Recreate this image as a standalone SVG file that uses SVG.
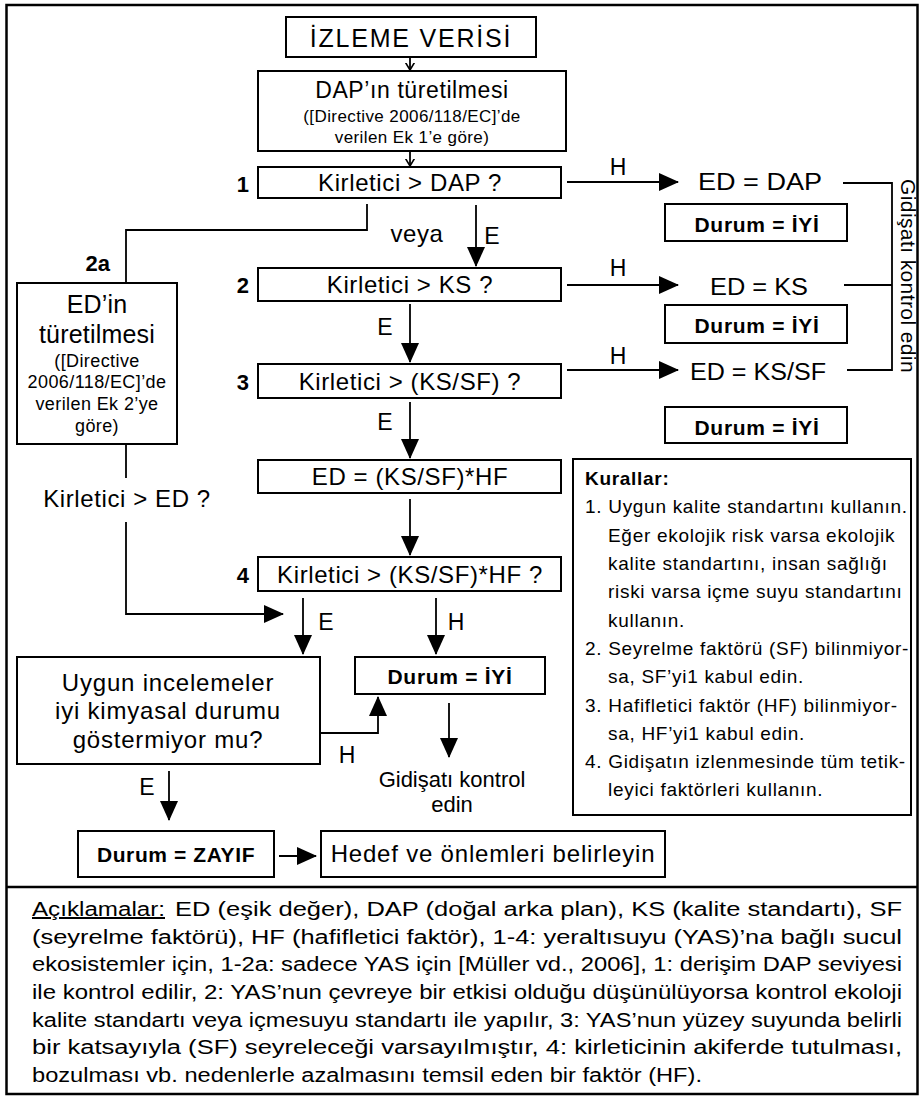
<svg xmlns="http://www.w3.org/2000/svg" width="921" height="1098" viewBox="0 0 921 1098">
<defs>
<marker id="ah" viewBox="0 0 20 18" refX="19" refY="9" markerWidth="20" markerHeight="18" markerUnits="userSpaceOnUse" orient="auto"><path d="M0,0 L20,9 L0,18 Z" fill="#000"/></marker>
<marker id="sv" viewBox="0 0 8 10" refX="7.5" refY="5" markerWidth="8" markerHeight="10" markerUnits="userSpaceOnUse" orient="auto"><path d="M0,0.5 L7.5,5 L0,9.5" fill="none" stroke="#000" stroke-width="1.6"/></marker>
<style>
text{font-family:"Liberation Sans",Arial,sans-serif;fill:#000}
.box{fill:#fff;stroke:#000;stroke-width:2}
.ln{fill:none;stroke:#000;stroke-width:1.8}
.m{font-size:24px;letter-spacing:0.6px;text-anchor:middle}
.lb{font-size:23px;text-anchor:middle}
.num{font-size:22px;font-weight:bold;text-anchor:end}
.b{font-size:21px;font-weight:bold;letter-spacing:0.7px;text-anchor:middle}
.s{font-size:17px;letter-spacing:0.4px;text-anchor:middle}
.k{font-size:19px;letter-spacing:0.7px}
.lg{font-size:20px}
</style>
</defs>
<rect x="6.5" y="5" width="911" height="1089" fill="#fff" stroke="#000" stroke-width="2.5"/>
<line x1="6" y1="887" x2="917" y2="887" stroke="#000" stroke-width="2.5"/>

<g id="connectors">
<line class="ln" x1="410" y1="57" x2="410" y2="70" stroke-width="1.5" marker-end="url(#sv)"/>
<line class="ln" x1="410" y1="151" x2="410" y2="166" stroke-width="1.5" marker-end="url(#sv)"/>
<line class="ln" x1="476" y1="205" x2="476" y2="266" marker-end="url(#ah)"/>
<polyline class="ln" points="367,204 367,230 126,230 126,283"/>
<line class="ln" x1="410" y1="304" x2="410" y2="362" marker-end="url(#ah)"/>
<line class="ln" x1="410" y1="402" x2="410" y2="458" marker-end="url(#ah)"/>
<line class="ln" x1="410" y1="499" x2="410" y2="555" marker-end="url(#ah)"/>
<line class="ln" x1="567" y1="182" x2="678" y2="182" stroke-width="1.5" marker-end="url(#ah)"/>
<line class="ln" x1="567" y1="285" x2="678" y2="285" stroke-width="1.5" marker-end="url(#ah)"/>
<line class="ln" x1="567" y1="370" x2="678" y2="370" stroke-width="2.6" marker-end="url(#ah)"/>
<polyline class="ln" points="843,183 892,183 892,370 847,370" stroke-width="1.5"/>
<line class="ln" x1="844" y1="285" x2="892" y2="285" stroke-width="1.5"/>
<line class="ln" x1="126" y1="444" x2="126" y2="478"/>
<polyline class="ln" points="126,522 126,614 283,614" marker-end="url(#ah)"/>
<line class="ln" x1="303" y1="598" x2="303" y2="654" marker-end="url(#ah)"/>
<line class="ln" x1="436" y1="598" x2="436" y2="654" marker-end="url(#ah)"/>
<polyline class="ln" points="320,733 378,733 378,697" marker-end="url(#ah)"/>
<line class="ln" x1="449" y1="703" x2="449" y2="757" marker-end="url(#ah)"/>
<line class="ln" x1="169" y1="771" x2="169" y2="820" marker-end="url(#ah)"/>
<line class="ln" x1="279" y1="856" x2="316" y2="856" marker-end="url(#ah)"/>
<text class="lb" x="618" y="175">H</text>
<text class="lb" x="618" y="276">H</text>
<text class="lb" x="618" y="364">H</text>
<text class="lb" x="492" y="244">E</text>
<text class="m" x="417" y="242">veya</text>
<text class="lb" x="385" y="335">E</text>
<text class="lb" x="385" y="430">E</text>
<text class="lb" x="326" y="630">E</text>
<text class="lb" x="456" y="630">H</text>
<text class="lb" x="347" y="763">H</text>
<text class="lb" x="147" y="795">E</text>
<text class="m" x="127" y="507">Kirletici &gt; ED ?</text>
<text class="lb" x="901" y="276" transform="rotate(90 901 276)" style="font-size:21px" letter-spacing="0.4">Gidişatı kontrol edin</text>
<text class="lb" x="452" y="787" style="font-size:22px">Gidişatı kontrol</text>
<text class="lb" x="452" y="812" style="font-size:22px">edin</text>
</g>

<g id="izleme"><rect class="box" x="286" y="17" width="250" height="40"/><text class="m" x="411" y="47" style="font-size:25px;letter-spacing:1.8px">İZLEME VERİSİ</text></g>
<g id="dap"><rect class="box" x="258" y="71" width="308" height="80"/><text class="m" x="412" y="98" style="font-size:23px">DAP’ın türetilmesi</text><text class="s" x="412" y="122">([Directive 2006/118/EC]’de</text><text class="s" x="412" y="143">verilen Ek 1’e göre)</text></g>
<g id="q1"><text class="num" x="249" y="192">1</text><rect class="box" x="258" y="167" width="303" height="31"/><text class="m" x="410" y="191">Kirletici &gt; DAP ?</text></g>
<g id="q2"><text class="num" x="249" y="293">2</text><rect class="box" x="258" y="268" width="303" height="33"/><text class="m" x="410" y="293">Kirletici &gt; KS ?</text></g>
<g id="q3"><text class="num" x="249" y="390">3</text><rect class="box" x="258" y="364" width="303" height="34"/><text class="m" x="410" y="390">Kirletici &gt; (KS/SF) ?</text></g>
<g id="edhf"><rect class="box" x="258" y="460" width="303" height="33"/><text class="m" x="410" y="485">ED = (KS/SF)*HF</text></g>
<g id="q4"><text class="num" x="249" y="583">4</text><rect class="box" x="258" y="557" width="303" height="34"/><text class="m" x="410" y="583">Kirletici &gt; (KS/SF)*HF ?</text></g>

<g id="ed-dap"><text class="lb" x="760" y="190" textLength="124" lengthAdjust="spacingAndGlyphs">ED = DAP</text></g>
<g id="durum1"><rect class="box" x="665" y="204" width="182" height="37"/><text class="b" x="757" y="232">Durum = İYİ</text></g>
<g id="ed-ks"><text class="lb" x="759" y="295" textLength="98" lengthAdjust="spacingAndGlyphs">ED = KS</text></g>
<g id="durum2"><rect class="box" x="665" y="305" width="182" height="38"/><text class="b" x="757" y="333">Durum = İYİ</text></g>
<g id="ed-kssf"><text class="lb" x="758" y="380" textLength="136" lengthAdjust="spacingAndGlyphs">ED = KS/SF</text></g>
<g id="durum3"><rect class="box" x="665" y="407" width="182" height="36"/><text class="b" x="757" y="435">Durum = İYİ</text></g>

<g id="ed2a"><text class="num" x="110" y="271">2a</text><rect class="box" x="17" y="283" width="160" height="161"/>
<text class="m" x="97" y="313" style="font-size:25px;letter-spacing:0.2px">ED’in</text>
<text class="m" x="97" y="343" style="font-size:25px;letter-spacing:0.2px">türetilmesi</text>
<text class="s" x="97" y="367" style="font-size:18px">([Directive</text>
<text class="s" x="97" y="388" style="font-size:18px">2006/118/EC]’de</text>
<text class="s" x="97" y="410" style="font-size:18px">verilen Ek 2’ye</text>
<text class="s" x="97" y="432" style="font-size:18px">göre)</text></g>

<g id="inceleme"><rect class="box" x="17" y="657" width="303" height="107"/>
<text class="m" x="168" y="691" style="letter-spacing:0.8px">Uygun incelemeler</text>
<text class="m" x="168" y="719" style="letter-spacing:0.8px">iyi kimyasal durumu</text>
<text class="m" x="168" y="748" style="letter-spacing:0.8px">göstermiyor mu?</text></g>
<g id="durum4"><rect class="box" x="355" y="657" width="190" height="37"/><text class="b" x="450" y="684">Durum = İYİ</text></g>
<g id="zayif"><rect class="box" x="78" y="831" width="196" height="46"/><text class="b" x="176" y="862" style="letter-spacing:0.6px">Durum = ZAYIF</text></g>
<g id="hedef"><rect class="box" x="321" y="831" width="344" height="46"/><text class="m" x="493" y="862" style="letter-spacing:0.8px">Hedef ve önlemleri belirleyin</text></g>

<g id="kurallar"><rect class="box" x="573" y="459" width="338" height="356"/>
<text class="k" x="585" y="485" font-weight="bold">Kurallar:</text>
<text class="k" x="585" y="513">1. Uygun kalite standartını kullanın.</text>
<text class="k" x="608" y="542">Eğer ekolojik risk varsa ekolojik</text>
<text class="k" x="608" y="570">kalite standartını, insan sağlığı</text>
<text class="k" x="608" y="598">riski varsa içme suyu standartını</text>
<text class="k" x="608" y="627">kullanın.</text>
<text class="k" x="585" y="655">2. Seyrelme faktörü (SF) bilinmiyor-</text>
<text class="k" x="608" y="683">sa, SF’yi1 kabul edin.</text>
<text class="k" x="585" y="712">3. Hafifletici faktör (HF) bilinmiyor-</text>
<text class="k" x="608" y="740">sa, HF’yi1 kabul edin.</text>
<text class="k" x="585" y="768">4. Gidişatın izlenmesinde tüm tetik-</text>
<text class="k" x="608" y="796">leyici faktörleri kullanın.</text></g>

<g id="aciklamalar">
<text class="lg" x="32" y="916" text-decoration="underline" textLength="133" lengthAdjust="spacingAndGlyphs">Açıklamalar:</text>
<text class="lg" x="175" y="916" textLength="727" lengthAdjust="spacingAndGlyphs">ED (eşik değer), DAP (doğal arka plan), KS (kalite standartı), SF</text>
<text class="lg" x="32" y="944" textLength="870" lengthAdjust="spacingAndGlyphs">(seyrelme faktörü), HF (hafifletici faktör), 1-4: yeraltısuyu (YAS)’na bağlı sucul</text>
<text class="lg" x="32" y="971" textLength="870" lengthAdjust="spacingAndGlyphs">ekosistemler için, 1-2a: sadece YAS  için [Müller vd., 2006], 1: derişim DAP seviyesi</text>
<text class="lg" x="32" y="999" textLength="870" lengthAdjust="spacingAndGlyphs">ile kontrol edilir, 2: YAS’nun çevreye bir etkisi olduğu düşünülüyorsa kontrol ekoloji</text>
<text class="lg" x="32" y="1027" textLength="870" lengthAdjust="spacingAndGlyphs">kalite standartı veya içmesuyu standartı ile yapılır, 3: YAS’nun yüzey suyunda belirli</text>
<text class="lg" x="32" y="1054" textLength="870" lengthAdjust="spacingAndGlyphs">bir katsayıyla (SF) seyreleceği varsayılmıştır, 4: kirleticinin akiferde tutulması,</text>
<text class="lg" x="32" y="1082" textLength="670" lengthAdjust="spacingAndGlyphs">bozulması vb. nedenlerle azalmasını temsil eden bir faktör (HF).</text>
</g>
</svg>
